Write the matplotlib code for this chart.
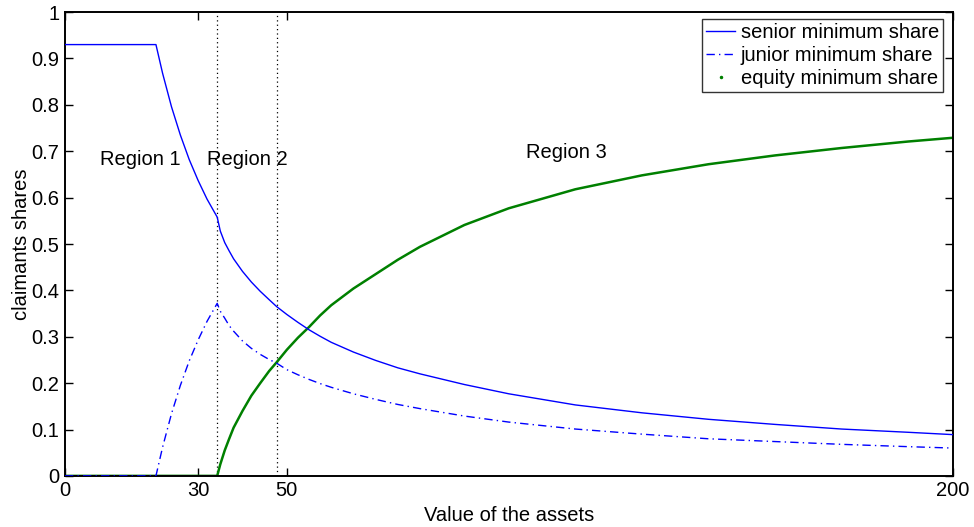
import matplotlib
matplotlib.use("Agg")
import matplotlib.pyplot as plt
from matplotlib.lines import Line2D

plt.rcParams['font.family'] = ['Liberation Sans', 'DejaVu Sans']

# Asset values (x) at which curves were read
asset_value = [0, 5, 10, 15, 20.5,
               22, 24, 26, 28, 30, 32,
               34.3,
               35, 36, 37, 38,
               40, 42, 44, 46,
               47.7,
               50, 52.5, 55, 57.5, 60,
               65, 70, 75, 80,
               90, 100, 115, 130, 145, 160, 175, 190, 200]

senior_share = [0.93, 0.93, 0.93, 0.93, 0.93,
                0.868, 0.796, 0.735, 0.682, 0.637, 0.597,
                0.558,
                0.528, 0.503, 0.485, 0.468,
                0.441, 0.418, 0.398, 0.380,
                0.365,
                0.348, 0.331, 0.315, 0.301, 0.288,
                0.267, 0.249, 0.233, 0.220,
                0.197, 0.177, 0.153, 0.136, 0.122, 0.111, 0.101, 0.094, 0.089]

junior_share = [0, 0, 0, 0, 0,
                0.062, 0.134, 0.195, 0.248, 0.293, 0.333,
                0.372,
                0.355, 0.340, 0.324, 0.312,
                0.291, 0.275, 0.262, 0.251,
                0.243,
                0.229, 0.218, 0.208, 0.199, 0.191,
                0.177, 0.165, 0.154, 0.145,
                0.129, 0.116, 0.101, 0.090, 0.080, 0.074, 0.068, 0.063, 0.060]

equity_share = [0, 0, 0, 0, 0,
                0, 0, 0, 0, 0, 0,
                0,
                0.025, 0.055, 0.080, 0.104,
                0.140, 0.173, 0.200, 0.226,
                0.245,
                0.272, 0.298, 0.321, 0.346, 0.368,
                0.404, 0.435, 0.466, 0.494,
                0.541, 0.577, 0.618, 0.648, 0.672, 0.691, 0.707, 0.721, 0.729]

region_bounds = [34.3, 47.7]
region_labels = ["Region 1", "Region 2", "Region 3"]
region_label_pos = [(16.9, 0.682), (41.0, 0.682), (113.0, 0.697)]

x_ticks = [0, 30, 50, 200]
y_ticks = [0, 0.1, 0.2, 0.3, 0.4, 0.5, 0.6, 0.7, 0.8, 0.9, 1]
y_tick_labels = ["0", "0.1", "0.2", "0.3", "0.4", "0.5", "0.6", "0.7", "0.8", "0.9", "1"]

FS = 14.5

fig = plt.figure(figsize=(9.74, 5.27), dpi=100)
ax = fig.add_axes([0.0667, 0.097, 0.9113, 0.88])

blue = '#0000ff'
green = '#008000'
dashdot = (0, (6, 3, 1, 3))

ax.plot(asset_value, equity_share, color=green, lw=1.8, solid_capstyle='butt',
        solid_joinstyle='round', zorder=2)
ax.plot(asset_value, senior_share, color=blue, lw=1.0, zorder=3)
ax.plot(asset_value, junior_share, color=blue, lw=1.0, linestyle=dashdot, zorder=3)

for b in region_bounds:
    ax.axvline(b, color='black', lw=0.9, linestyle=(0, (1, 2.5)), zorder=1)

for lab, (xx, yy) in zip(region_labels, region_label_pos):
    ax.text(xx, yy, lab, ha='center', va='center', fontsize=FS)

ax.set_xlim(0, 200)
ax.set_ylim(0, 1)
ax.set_xticks(x_ticks)
ax.set_xticklabels([str(t) for t in x_ticks])
ax.set_yticks(y_ticks)
ax.set_yticklabels(y_tick_labels)
ax.tick_params(direction='in', length=6, width=1, top=True, right=True, labelsize=FS, pad=4)
for s in ax.spines.values():
    s.set_linewidth(1.4)
    s.set_color('black')

ax.set_xlabel("Value of the assets", fontsize=FS, labelpad=4)
ax.set_ylabel("claimants shares", fontsize=FS, labelpad=0)

handles = [
    Line2D([], [], color=blue, lw=1.0),
    Line2D([], [], color=blue, lw=1.0, linestyle=dashdot),
    Line2D([], [], color=green, lw=0, marker='.', markersize=3),
]
leg = ax.legend(handles, ["senior minimum share", "junior minimum share", "equity minimum share"],
                loc='upper right', bbox_to_anchor=(0.989, 0.985), fontsize=FS, frameon=True,
                fancybox=False, shadow=False, borderpad=0.2, labelspacing=0.2,
                handlelength=1.45, handletextpad=0.25, borderaxespad=0.0)
leg.get_frame().set_edgecolor('black')
leg.get_frame().set_linewidth(1.0)

fig.savefig("out.png", dpi=100)
